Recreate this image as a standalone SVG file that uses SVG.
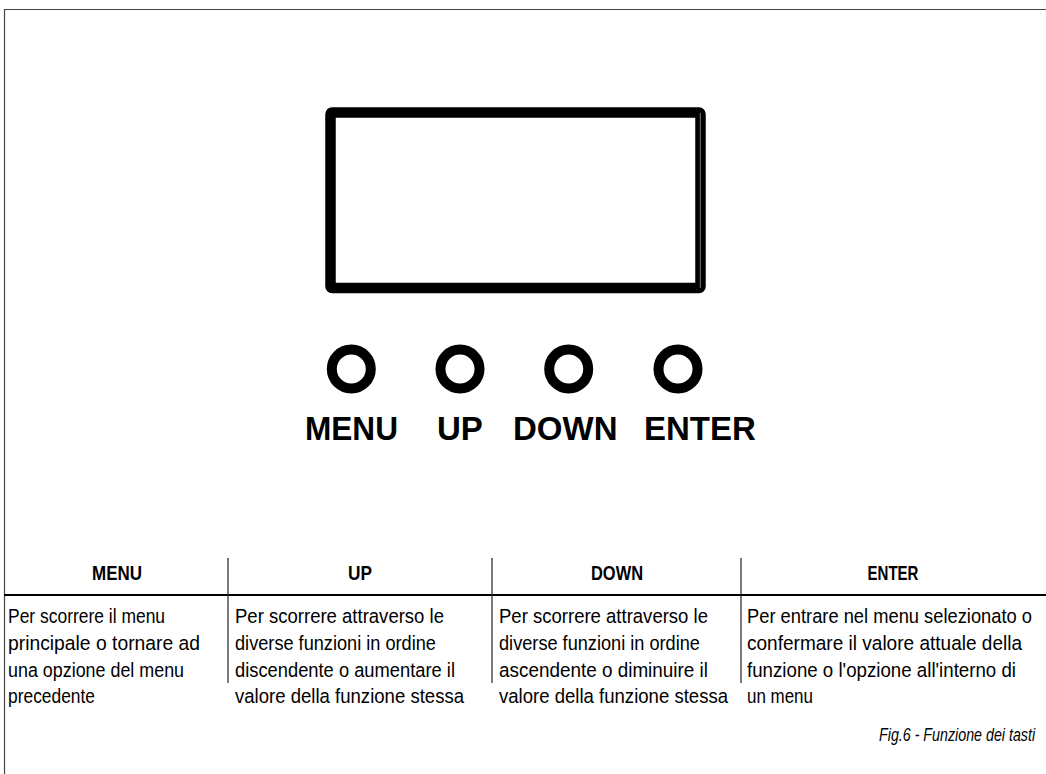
<svg xmlns="http://www.w3.org/2000/svg" width="1046" height="774" viewBox="0 0 1046 774">
<style>
.frame{fill:none;stroke:#444;stroke-width:1.2}
.btn{fill:none;stroke:#000;stroke-width:10}
.lbl{font-family:"Liberation Sans",Arial,sans-serif;font-weight:bold;font-size:33px;fill:#000}
.hd{font-family:"Liberation Sans",Arial,sans-serif;font-weight:bold;font-size:20px;fill:#000;text-anchor:middle}
.bd{font-family:"Liberation Sans",Arial,sans-serif;font-size:19.5px;fill:#000}
.cap{font-family:"Liberation Sans",Arial,sans-serif;font-style:italic;font-size:18px;fill:#000}
.div{stroke:#222;stroke-width:1.2}
</style>
<rect width="1046" height="774" fill="#fff"/>
<g id="frame">
<path class="frame" d="M4.5 774 V9.5 H1046"/>
</g>
<g id="display">
<rect x="330.5" y="112.5" width="370" height="175.5" rx="1.5" fill="#fff" stroke="#000" stroke-width="10.5"/>
<line x1="700.3" y1="113" x2="700.3" y2="288" stroke="#999" stroke-width="0.8"/>
</g>
<g id="btn-menu"><circle class="btn" cx="351.3" cy="369" r="19.5"/><text class="lbl" x="305" y="440" textLength="93" lengthAdjust="spacingAndGlyphs">MENU</text></g>
<g id="btn-up"><circle class="btn" cx="460" cy="369" r="19.5"/><text class="lbl" x="437" y="440">UP</text></g>
<g id="btn-down"><circle class="btn" cx="568.7" cy="369" r="19.5"/><text class="lbl" x="513" y="440">DOWN</text></g>
<g id="btn-enter"><circle class="btn" cx="678" cy="369" r="19.5"/><text class="lbl" x="644" y="440">ENTER</text></g>
<g id="table-lines">
<line x1="4" y1="595" x2="1046" y2="595" stroke="#000" stroke-width="2"/>
<line class="div" x1="228" y1="558" x2="228" y2="683"/>
<line class="div" x1="492" y1="558" x2="492" y2="683"/>
<line class="div" x1="741" y1="558" x2="741" y2="683"/>
</g>
<g id="col-menu">
<text class="hd" x="117" y="580" textLength="50" lengthAdjust="spacingAndGlyphs">MENU</text>
<g transform="translate(8,0) scale(0.86,1)">
<text class="bd" x="0" y="623" textLength="182.6" lengthAdjust="spacingAndGlyphs">Per scorrere il menu</text>
<text class="bd" x="0" y="650" textLength="223.3" lengthAdjust="spacingAndGlyphs">principale o tornare ad</text>
<text class="bd" x="0" y="677" textLength="204.7" lengthAdjust="spacingAndGlyphs">una opzione del menu</text>
<text class="bd" x="0" y="703" textLength="101.2" lengthAdjust="spacingAndGlyphs">precedente</text>
</g>
</g>
<g id="col-up">
<text class="hd" x="360" y="580" textLength="24" lengthAdjust="spacingAndGlyphs">UP</text>
<g transform="translate(235,0) scale(0.86,1)">
<text class="bd" x="0" y="623" textLength="243" lengthAdjust="spacingAndGlyphs">Per scorrere attraverso le</text>
<text class="bd" x="0" y="650" textLength="233.7" lengthAdjust="spacingAndGlyphs">diverse funzioni in ordine</text>
<text class="bd" x="0" y="677" textLength="255.8" lengthAdjust="spacingAndGlyphs">discendente o aumentare il</text>
<text class="bd" x="0" y="703" textLength="266.3" lengthAdjust="spacingAndGlyphs">valore della funzione stessa</text>
</g>
</g>
<g id="col-down">
<text class="hd" x="617" y="580" textLength="52" lengthAdjust="spacingAndGlyphs">DOWN</text>
<g transform="translate(499,0) scale(0.86,1)">
<text class="bd" x="0" y="623" textLength="243" lengthAdjust="spacingAndGlyphs">Per scorrere attraverso le</text>
<text class="bd" x="0" y="650" textLength="233.7" lengthAdjust="spacingAndGlyphs">diverse funzioni in ordine</text>
<text class="bd" x="0" y="677" textLength="243" lengthAdjust="spacingAndGlyphs">ascendente o diminuire il</text>
<text class="bd" x="0" y="703" textLength="266.3" lengthAdjust="spacingAndGlyphs">valore della funzione stessa</text>
</g>
</g>
<g id="col-enter">
<text class="hd" x="893" y="580" textLength="51" lengthAdjust="spacingAndGlyphs">ENTER</text>
<g transform="translate(747,0) scale(0.86,1)">
<text class="bd" x="0" y="623" textLength="331.4" lengthAdjust="spacingAndGlyphs">Per entrare nel menu selezionato o</text>
<text class="bd" x="0" y="650" textLength="319.8" lengthAdjust="spacingAndGlyphs">confermare il valore attuale della</text>
<text class="bd" x="0" y="677" textLength="312.8" lengthAdjust="spacingAndGlyphs">funzione o l'opzione all'interno di</text>
<text class="bd" x="0" y="703" textLength="76.7" lengthAdjust="spacingAndGlyphs">un menu</text>
</g>
</g>
<g id="caption" transform="translate(879,0) scale(0.74,1)">
<text class="cap" x="0" y="741" textLength="211" lengthAdjust="spacingAndGlyphs">Fig.6 - Funzione dei tasti</text>
</g>
</svg>
